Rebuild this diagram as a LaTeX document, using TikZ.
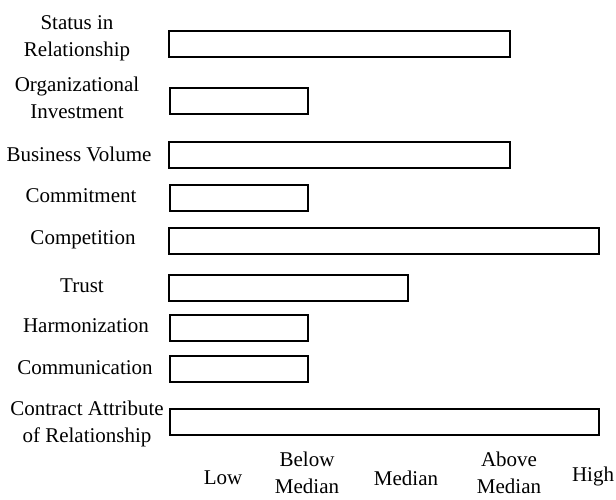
\documentclass[tikz,border=0pt]{standalone}
\usepackage{fontspec}
\setmainfont{Liberation Serif}
\usepackage{tikz}

\begin{document}
\begin{tikzpicture}[x=1pt,y=-1pt,
		bar node/.style={draw,line width=2pt,anchor=west,inner sep=0pt,minimum height=26pt},
		text node/.style={align=center,inner sep=0pt,font=\fontsize{21}{27}\selectfont}]
		
		\useasboundingbox (0,0) rectangle (616,499);
		
		% bars
		\node[bar node,minimum width=341pt] (status) at (168,43.5) {};
		\node[bar node,minimum width=138pt] (invest) at (169,101) {};
		\node[bar node,minimum width=341pt] (volume) at (168,154.5) {};
		\node[bar node,minimum width=138pt] (commit) at (169,197.5) {};
		\node[bar node,minimum width=430pt] (compet) at (168,241) {};
		\node[bar node,minimum width=239pt] (trust) at (168,287.5) {};
		\node[bar node,minimum width=138pt] (harmon) at (169,328) {};
		\node[bar node,minimum width=138pt] (commun) at (169,368.5) {};
		\node[bar node,minimum width=429pt] (contract) at (169,422) {};
		
		% factor names
		\node[text node] (statuslbl) at (77,38) {Status in\\Relationship};
		\node[text node] (investlbl) at (77,98) {Organizational\\Investment};
		\node[text node] (volumelbl) at (79,154) {Business Volume};
		\node[text node] (commitlbl) at (81,196) {Commitment};
		\node[text node] (competlbl) at (83,240) {Competition};
		\node[text node] (trustlbl) at (82,286) {Trust};
		\node[text node] (harmonlbl) at (86,326) {Harmonization};
		\node[text node] (communlbl) at (85,368) {Communication};
		\node[text node] (contractlbl) at (87,424) {Contract Attribute\\of Relationship};
		
		% scale
		\node[text node] (low) at (223,478) {Low};
		\node[text node] (belowmed) at (307,473) {Below\\Median};
		\node[text node] (median) at (406,478) {Median};
		\node[text node] (abovemed) at (509,473) {Above\\Median};
		\node[text node] (high) at (593,476) {High};
		
\end{tikzpicture}
\end{document}
